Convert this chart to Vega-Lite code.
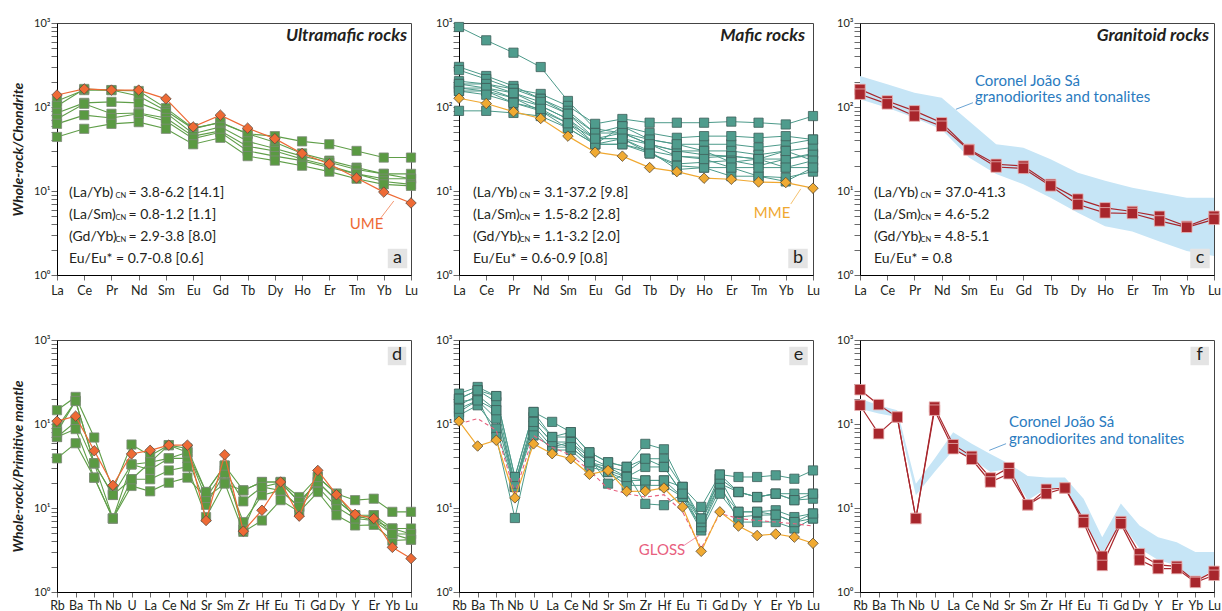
{
  "$schema": "https://vega.github.io/schema/vega-lite/v6.json",
  "background": "white",
  "padding": {"left": 11, "top": 16, "right": 0, "bottom": 0},
  "config": {
    "font": "Lato",
    "view": {"stroke": "#444", "strokeWidth": 1},
    "axis": {"grid": false, "labelFont": "Lato", "titleFont": "Lato", "domainColor": "#000", "domainWidth": 1, "tickColor": "#444", "tickWidth": 0.8, "labelColor": "#231f20", "labelOverlap": false}
  },
  "datasets": {
    "a_s": [
      {"s":"S1","e":"La","v":118},{"s":"S1","e":"Ce","v":159},{"s":"S1","e":"Pr","v":159},{"s":"S1","e":"Nd","v":155},{"s":"S1","e":"Sm","v":97},{"s":"S1","e":"Eu","v":56},{"s":"S1","e":"Gd","v":65},{"s":"S1","e":"Tb","v":48},{"s":"S1","e":"Dy","v":45},{"s":"S1","e":"Ho","v":39},{"s":"S1","e":"Er","v":36},{"s":"S1","e":"Tm","v":30},{"s":"S1","e":"Yb","v":25},{"s":"S1","e":"Lu","v":25},
      {"s":"S2","e":"La","v":103},{"s":"S2","e":"Ce","v":164},{"s":"S2","e":"Pr","v":159},{"s":"S2","e":"Nd","v":135},{"s":"S2","e":"Sm","v":90},{"s":"S2","e":"Eu","v":55},{"s":"S2","e":"Gd","v":66},{"s":"S2","e":"Tb","v":48},{"s":"S2","e":"Dy","v":38},{"s":"S2","e":"Ho","v":28},{"s":"S2","e":"Er","v":23},{"s":"S2","e":"Tm","v":19},{"s":"S2","e":"Yb","v":16},{"s":"S2","e":"Lu","v":16},
      {"s":"S3","e":"La","v":85},{"s":"S3","e":"Ce","v":112},{"s":"S3","e":"Pr","v":115},{"s":"S3","e":"Nd","v":112},{"s":"S3","e":"Sm","v":85},{"s":"S3","e":"Eu","v":48},{"s":"S3","e":"Gd","v":58},{"s":"S3","e":"Tb","v":39},{"s":"S3","e":"Dy","v":32},{"s":"S3","e":"Ho","v":26},{"s":"S3","e":"Er","v":22},{"s":"S3","e":"Tm","v":18},{"s":"S3","e":"Yb","v":16},{"s":"S3","e":"Lu","v":14},
      {"s":"S4","e":"La","v":72},{"s":"S4","e":"Ce","v":109},{"s":"S4","e":"Pr","v":83},{"s":"S4","e":"Nd","v":85},{"s":"S4","e":"Sm","v":74},{"s":"S4","e":"Eu","v":45},{"s":"S4","e":"Gd","v":52},{"s":"S4","e":"Tb","v":34},{"s":"S4","e":"Dy","v":30},{"s":"S4","e":"Ho","v":24},{"s":"S4","e":"Er","v":20},{"s":"S4","e":"Tm","v":16},{"s":"S4","e":"Yb","v":14},{"s":"S4","e":"Lu","v":14},
      {"s":"S5","e":"La","v":63},{"s":"S5","e":"Ce","v":80},{"s":"S5","e":"Pr","v":74},{"s":"S5","e":"Nd","v":83},{"s":"S5","e":"Sm","v":68},{"s":"S5","e":"Eu","v":42},{"s":"S5","e":"Gd","v":50},{"s":"S5","e":"Tb","v":30},{"s":"S5","e":"Dy","v":26},{"s":"S5","e":"Ho","v":23},{"s":"S5","e":"Er","v":19},{"s":"S5","e":"Tm","v":16},{"s":"S5","e":"Yb","v":13},{"s":"S5","e":"Lu","v":12},
      {"s":"S6","e":"La","v":44},{"s":"S6","e":"Ce","v":55},{"s":"S6","e":"Pr","v":63},{"s":"S6","e":"Nd","v":66},{"s":"S6","e":"Sm","v":55},{"s":"S6","e":"Eu","v":36},{"s":"S6","e":"Gd","v":43},{"s":"S6","e":"Tb","v":26},{"s":"S6","e":"Dy","v":23},{"s":"S6","e":"Ho","v":20},{"s":"S6","e":"Er","v":17},{"s":"S6","e":"Tm","v":14},{"s":"S6","e":"Yb","v":12},{"s":"S6","e":"Lu","v":11.5}
    ],
    "a_u": [
      {"s":"UME","e":"La","v":139},{"s":"UME","e":"Ce","v":164},{"s":"UME","e":"Pr","v":159},{"s":"UME","e":"Nd","v":159},{"s":"UME","e":"Sm","v":125},{"s":"UME","e":"Eu","v":58},{"s":"UME","e":"Gd","v":80},{"s":"UME","e":"Tb","v":56},{"s":"UME","e":"Dy","v":42},{"s":"UME","e":"Ho","v":28},{"s":"UME","e":"Er","v":21},{"s":"UME","e":"Tm","v":14.3},{"s":"UME","e":"Yb","v":9.7},{"s":"UME","e":"Lu","v":7.2}
    ],
    "b_s": [
      {"s":"T1","e":"La","v":896},{"s":"T1","e":"Ce","v":622},{"s":"T1","e":"Pr","v":443},{"s":"T1","e":"Nd","v":299},{"s":"T1","e":"Sm","v":118},{"s":"T1","e":"Eu","v":55},{"s":"T1","e":"Gd","v":49},{"s":"T1","e":"Tb","v":36},{"s":"T1","e":"Dy","v":30},{"s":"T1","e":"Ho","v":27},{"s":"T1","e":"Er","v":26},{"s":"T1","e":"Tm","v":24},{"s":"T1","e":"Yb","v":24},{"s":"T1","e":"Lu","v":28},
      {"s":"T2","e":"La","v":203},{"s":"T2","e":"Ce","v":188},{"s":"T2","e":"Pr","v":164},{"s":"T2","e":"Nd","v":143},{"s":"T2","e":"Sm","v":103},{"s":"T2","e":"Eu","v":63},{"s":"T2","e":"Gd","v":72},{"s":"T2","e":"Tb","v":65},{"s":"T2","e":"Dy","v":65},{"s":"T2","e":"Ho","v":65},{"s":"T2","e":"Er","v":67},{"s":"T2","e":"Tm","v":65},{"s":"T2","e":"Yb","v":62},{"s":"T2","e":"Lu","v":78},
      {"s":"T3","e":"La","v":300},{"s":"T3","e":"Ce","v":234},{"s":"T3","e":"Pr","v":178},{"s":"T3","e":"Nd","v":125},{"s":"T3","e":"Sm","v":90},{"s":"T3","e":"Eu","v":49},{"s":"T3","e":"Gd","v":59},{"s":"T3","e":"Tb","v":41},{"s":"T3","e":"Dy","v":36},{"s":"T3","e":"Ho","v":36},{"s":"T3","e":"Er","v":36},{"s":"T3","e":"Tm","v":33},{"s":"T3","e":"Yb","v":36},{"s":"T3","e":"Lu","v":41},
      {"s":"T4","e":"La","v":275},{"s":"T4","e":"Ce","v":215},{"s":"T4","e":"Pr","v":164},{"s":"T4","e":"Nd","v":125},{"s":"T4","e":"Sm","v":83},{"s":"T4","e":"Eu","v":42},{"s":"T4","e":"Gd","v":49},{"s":"T4","e":"Tb","v":36},{"s":"T4","e":"Dy","v":30},{"s":"T4","e":"Ho","v":30},{"s":"T4","e":"Er","v":30},{"s":"T4","e":"Tm","v":27},{"s":"T4","e":"Yb","v":30},{"s":"T4","e":"Lu","v":33},
      {"s":"T5","e":"La","v":188},{"s":"T5","e":"Ce","v":188},{"s":"T5","e":"Pr","v":147},{"s":"T5","e":"Nd","v":103},{"s":"T5","e":"Sm","v":72},{"s":"T5","e":"Eu","v":42},{"s":"T5","e":"Gd","v":42},{"s":"T5","e":"Tb","v":30},{"s":"T5","e":"Dy","v":26},{"s":"T5","e":"Ho","v":25},{"s":"T5","e":"Er","v":26},{"s":"T5","e":"Tm","v":24},{"s":"T5","e":"Yb","v":19},{"s":"T5","e":"Lu","v":23},
      {"s":"T6","e":"La","v":168},{"s":"T6","e":"Ce","v":168},{"s":"T6","e":"Pr","v":128},{"s":"T6","e":"Nd","v":103},{"s":"T6","e":"Sm","v":72},{"s":"T6","e":"Eu","v":36},{"s":"T6","e":"Gd","v":59},{"s":"T6","e":"Tb","v":49},{"s":"T6","e":"Dy","v":43},{"s":"T6","e":"Ho","v":45},{"s":"T6","e":"Er","v":45},{"s":"T6","e":"Tm","v":43},{"s":"T6","e":"Yb","v":45},{"s":"T6","e":"Lu","v":41},
      {"s":"T7","e":"La","v":155},{"s":"T7","e":"Ce","v":155},{"s":"T7","e":"Pr","v":128},{"s":"T7","e":"Nd","v":90},{"s":"T7","e":"Sm","v":64},{"s":"T7","e":"Eu","v":36},{"s":"T7","e":"Gd","v":42},{"s":"T7","e":"Tb","v":28},{"s":"T7","e":"Dy","v":21},{"s":"T7","e":"Ho","v":22},{"s":"T7","e":"Er","v":23},{"s":"T7","e":"Tm","v":20},{"s":"T7","e":"Yb","v":24},{"s":"T7","e":"Lu","v":27},
      {"s":"T8","e":"La","v":168},{"s":"T8","e":"Ce","v":155},{"s":"T8","e":"Pr","v":112},{"s":"T8","e":"Nd","v":90},{"s":"T8","e":"Sm","v":56},{"s":"T8","e":"Eu","v":36},{"s":"T8","e":"Gd","v":36},{"s":"T8","e":"Tb","v":30},{"s":"T8","e":"Dy","v":18},{"s":"T8","e":"Ho","v":19},{"s":"T8","e":"Er","v":19},{"s":"T8","e":"Tm","v":15},{"s":"T8","e":"Yb","v":13},{"s":"T8","e":"Lu","v":19},
      {"s":"T9","e":"La","v":90},{"s":"T9","e":"Ce","v":90},{"s":"T9","e":"Pr","v":85},{"s":"T9","e":"Nd","v":78},{"s":"T9","e":"Sm","v":56},{"s":"T9","e":"Eu","v":36},{"s":"T9","e":"Gd","v":36},{"s":"T9","e":"Tb","v":28},{"s":"T9","e":"Dy","v":20},{"s":"T9","e":"Ho","v":19},{"s":"T9","e":"Er","v":15},{"s":"T9","e":"Tm","v":15},{"s":"T9","e":"Yb","v":14.4},{"s":"T9","e":"Lu","v":17},
      {"s":"T10","e":"La","v":188},{"s":"T10","e":"Ce","v":168},{"s":"T10","e":"Pr","v":147},{"s":"T10","e":"Nd","v":115},{"s":"T10","e":"Sm","v":83},{"s":"T10","e":"Eu","v":49},{"s":"T10","e":"Gd","v":49},{"s":"T10","e":"Tb","v":41},{"s":"T10","e":"Dy","v":36},{"s":"T10","e":"Ho","v":30},{"s":"T10","e":"Er","v":22},{"s":"T10","e":"Tm","v":24},{"s":"T10","e":"Yb","v":30},{"s":"T10","e":"Lu","v":23},
      {"s":"T11","e":"La","v":155},{"s":"T11","e":"Ce","v":140},{"s":"T11","e":"Pr","v":112},{"s":"T11","e":"Nd","v":95},{"s":"T11","e":"Sm","v":64},{"s":"T11","e":"Eu","v":42},{"s":"T11","e":"Gd","v":42},{"s":"T11","e":"Tb","v":36},{"s":"T11","e":"Dy","v":26},{"s":"T11","e":"Ho","v":24},{"s":"T11","e":"Er","v":19},{"s":"T11","e":"Tm","v":19},{"s":"T11","e":"Yb","v":19},{"s":"T11","e":"Lu","v":19}
    ],
    "b_m": [
      {"s":"MME","e":"La","v":127},{"s":"MME","e":"Ce","v":110},{"s":"MME","e":"Pr","v":88},{"s":"MME","e":"Nd","v":73},{"s":"MME","e":"Sm","v":45},{"s":"MME","e":"Eu","v":29},{"s":"MME","e":"Gd","v":26},{"s":"MME","e":"Tb","v":19},{"s":"MME","e":"Dy","v":17},{"s":"MME","e":"Ho","v":14.2},{"s":"MME","e":"Er","v":13.8},{"s":"MME","e":"Tm","v":12.8},{"s":"MME","e":"Yb","v":12.6},{"s":"MME","e":"Lu","v":10.8}
    ],
    "c_s": [
      {"s":"R1","e":"La","v":162},{"s":"R1","e":"Ce","v":118},{"s":"R1","e":"Pr","v":90},{"s":"R1","e":"Nd","v":65},{"s":"R1","e":"Sm","v":31.3},{"s":"R1","e":"Eu","v":20.8},{"s":"R1","e":"Gd","v":19.8},{"s":"R1","e":"Tb","v":12},{"s":"R1","e":"Dy","v":8},{"s":"R1","e":"Ho","v":6.3},{"s":"R1","e":"Er","v":5.7},{"s":"R1","e":"Tm","v":5},{"s":"R1","e":"Yb","v":3.8},{"s":"R1","e":"Lu","v":5},
      {"s":"R2","e":"La","v":142},{"s":"R2","e":"Ce","v":109},{"s":"R2","e":"Pr","v":78},{"s":"R2","e":"Nd","v":59},{"s":"R2","e":"Sm","v":30.8},{"s":"R2","e":"Eu","v":19.3},{"s":"R2","e":"Gd","v":18.6},{"s":"R2","e":"Tb","v":11.5},{"s":"R2","e":"Dy","v":6.9},{"s":"R2","e":"Ho","v":5.5},{"s":"R2","e":"Er","v":5.4},{"s":"R2","e":"Tm","v":4.4},{"s":"R2","e":"Yb","v":3.7},{"s":"R2","e":"Lu","v":4.6}
    ],
    "c_band": [
      {"e":"La","hi":234,"lo":124},{"e":"Ce","hi":186,"lo":98},{"e":"Pr","hi":148,"lo":74.6},{"e":"Nd","hi":129,"lo":54},{"e":"Sm","hi":68,"lo":25},{"e":"Eu","hi":36,"lo":15.9},{"e":"Gd","hi":32.8,"lo":12},{"e":"Tb","hi":23.8,"lo":8.3},{"e":"Dy","hi":16.5,"lo":5.5},{"e":"Ho","hi":13.2,"lo":3.8},{"e":"Er","hi":10.9,"lo":3.3},{"e":"Tm","hi":9.5,"lo":2.5},{"e":"Yb","hi":8.3,"lo":1.93},{"e":"Lu","hi":8.3,"lo":1.68}
    ],
    "d_s": [
      {"s":"D1","e":"Rb","v":146},{"s":"D1","e":"Ba","v":210},{"s":"D1","e":"Th","v":69},{"s":"D1","e":"Nb","v":16.4},{"s":"D1","e":"U","v":57},{"s":"D1","e":"La","v":42},{"s":"D1","e":"Ce","v":56},{"s":"D1","e":"Nd","v":51},{"s":"D1","e":"Sr","v":15.5},{"s":"D1","e":"Sm","v":32},{"s":"D1","e":"Zr","v":16.2},{"s":"D1","e":"Hf","v":20.4},{"s":"D1","e":"Eu","v":20.4},{"s":"D1","e":"Ti","v":13.5},{"s":"D1","e":"Gd","v":23.4},{"s":"D1","e":"Dy","v":14.8},{"s":"D1","e":"Y","v":12.4},{"s":"D1","e":"Er","v":12.9},{"s":"D1","e":"Yb","v":9},{"s":"D1","e":"Lu","v":9},
      {"s":"D2","e":"Rb","v":90},{"s":"D2","e":"Ba","v":188},{"s":"D2","e":"Th","v":34},{"s":"D2","e":"Nb","v":14.3},{"s":"D2","e":"U","v":33},{"s":"D2","e":"La","v":35},{"s":"D2","e":"Ce","v":56},{"s":"D2","e":"Nd","v":46},{"s":"D2","e":"Sr","v":13.2},{"s":"D2","e":"Sm","v":28},{"s":"D2","e":"Zr","v":12},{"s":"D2","e":"Hf","v":17.8},{"s":"D2","e":"Eu","v":20},{"s":"D2","e":"Ti","v":11.8},{"s":"D2","e":"Gd","v":20.4},{"s":"D2","e":"Dy","v":12.4},{"s":"D2","e":"Y","v":8.2},{"s":"D2","e":"Er","v":8.2},{"s":"D2","e":"Yb","v":5.7},{"s":"D2","e":"Lu","v":5.7},
      {"s":"D3","e":"Rb","v":70},{"s":"D3","e":"Ba","v":106},{"s":"D3","e":"Th","v":34},{"s":"D3","e":"Nb","v":7.5},{"s":"D3","e":"U","v":33},{"s":"D3","e":"La","v":28.6},{"s":"D3","e":"Ce","v":39},{"s":"D3","e":"Nd","v":39},{"s":"D3","e":"Sr","v":10.9},{"s":"D3","e":"Sm","v":26},{"s":"D3","e":"Zr","v":6.8},{"s":"D3","e":"Hf","v":14.2},{"s":"D3","e":"Eu","v":16.2},{"s":"D3","e":"Ti","v":10.3},{"s":"D3","e":"Gd","v":17.8},{"s":"D3","e":"Dy","v":10.3},{"s":"D3","e":"Y","v":7.5},{"s":"D3","e":"Er","v":7.1},{"s":"D3","e":"Yb","v":4.9},{"s":"D3","e":"Lu","v":4.9},
      {"s":"D4","e":"Rb","v":70},{"s":"D4","e":"Ba","v":87},{"s":"D4","e":"Th","v":23},{"s":"D4","e":"Nb","v":7.5},{"s":"D4","e":"U","v":22},{"s":"D4","e":"La","v":22},{"s":"D4","e":"Ce","v":28},{"s":"D4","e":"Nd","v":31},{"s":"D4","e":"Sr","v":7.8},{"s":"D4","e":"Sm","v":20},{"s":"D4","e":"Zr","v":5.2},{"s":"D4","e":"Hf","v":7.1},{"s":"D4","e":"Eu","v":12.4},{"s":"D4","e":"Ti","v":9},{"s":"D4","e":"Gd","v":15.5},{"s":"D4","e":"Dy","v":8.2},{"s":"D4","e":"Y","v":6.2},{"s":"D4","e":"Er","v":6.3},{"s":"D4","e":"Yb","v":4.1},{"s":"D4","e":"Lu","v":4.2},
      {"s":"D5","e":"Rb","v":39},{"s":"D5","e":"Ba","v":59},{"s":"D5","e":"Th","v":23},{"s":"D5","e":"Nb","v":7.5},{"s":"D5","e":"U","v":18.3},{"s":"D5","e":"La","v":15.8},{"s":"D5","e":"Ce","v":20},{"s":"D5","e":"Nd","v":23},{"s":"D5","e":"Sr","v":13.2},{"s":"D5","e":"Sm","v":19.5},{"s":"D5","e":"Zr","v":16.2},{"s":"D5","e":"Hf","v":20.4},{"s":"D5","e":"Eu","v":20.4},{"s":"D5","e":"Ti","v":11.8},{"s":"D5","e":"Gd","v":20.4},{"s":"D5","e":"Dy","v":12.4},{"s":"D5","e":"Y","v":8.2},{"s":"D5","e":"Er","v":7.1},{"s":"D5","e":"Yb","v":5.7},{"s":"D5","e":"Lu","v":4.9},
      {"s":"D6","e":"Rb","v":80},{"s":"D6","e":"Ba","v":188},{"s":"D6","e":"Th","v":34},{"s":"D6","e":"Nb","v":14.3},{"s":"D6","e":"U","v":22},{"s":"D6","e":"La","v":35},{"s":"D6","e":"Ce","v":39},{"s":"D6","e":"Nd","v":46},{"s":"D6","e":"Sr","v":15.5},{"s":"D6","e":"Sm","v":32},{"s":"D6","e":"Zr","v":5.5},{"s":"D6","e":"Hf","v":17.8},{"s":"D6","e":"Eu","v":16.2},{"s":"D6","e":"Ti","v":10.3},{"s":"D6","e":"Gd","v":23.4},{"s":"D6","e":"Dy","v":14.8},{"s":"D6","e":"Y","v":7.5},{"s":"D6","e":"Er","v":8.2},{"s":"D6","e":"Yb","v":4.9},{"s":"D6","e":"Lu","v":4.2}
    ],
    "d_u": [
      {"s":"UME","e":"Rb","v":108},{"s":"UME","e":"Ba","v":124},{"s":"UME","e":"Th","v":48},{"s":"UME","e":"Nb","v":18.6},{"s":"UME","e":"U","v":44},{"s":"UME","e":"La","v":48.6},{"s":"UME","e":"Ce","v":56},{"s":"UME","e":"Nd","v":56},{"s":"UME","e":"Sr","v":7.1},{"s":"UME","e":"Sm","v":43},{"s":"UME","e":"Zr","v":5.3},{"s":"UME","e":"Hf","v":9.4},{"s":"UME","e":"Eu","v":20.4},{"s":"UME","e":"Ti","v":8},{"s":"UME","e":"Gd","v":28},{"s":"UME","e":"Dy","v":14.4},{"s":"UME","e":"Y","v":8.4},{"s":"UME","e":"Er","v":7.5},{"s":"UME","e":"Yb","v":3.4},{"s":"UME","e":"Lu","v":2.5}
    ],
    "e_s": [
      {"s":"E1","e":"Rb","v":230},{"s":"E1","e":"Ba","v":276},{"s":"E1","e":"Th","v":215},{"s":"E1","e":"Nb","v":23.4},{"s":"E1","e":"U","v":139},{"s":"E1","e":"La","v":106},{"s":"E1","e":"Ce","v":80},{"s":"E1","e":"Nd","v":46},{"s":"E1","e":"Sr","v":35},{"s":"E1","e":"Sm","v":31},{"s":"E1","e":"Zr","v":58},{"s":"E1","e":"Hf","v":50},{"s":"E1","e":"Eu","v":17.8},{"s":"E1","e":"Ti","v":10.3},{"s":"E1","e":"Gd","v":25},{"s":"E1","e":"Dy","v":23.4},{"s":"E1","e":"Y","v":23.4},{"s":"E1","e":"Er","v":24.5},{"s":"E1","e":"Yb","v":22.3},{"s":"E1","e":"Lu","v":28},
      {"s":"E2","e":"Rb","v":200},{"s":"E2","e":"Ba","v":252},{"s":"E2","e":"Th","v":183},{"s":"E2","e":"Nb","v":19.5},{"s":"E2","e":"U","v":121},{"s":"E2","e":"La","v":70},{"s":"E2","e":"Ce","v":70},{"s":"E2","e":"Nd","v":40},{"s":"E2","e":"Sr","v":31},{"s":"E2","e":"Sm","v":27},{"s":"E2","e":"Zr","v":38.6},{"s":"E2","e":"Hf","v":38.6},{"s":"E2","e":"Eu","v":17.8},{"s":"E2","e":"Ti","v":7.5},{"s":"E2","e":"Gd","v":22.3},{"s":"E2","e":"Dy","v":15.5},{"s":"E2","e":"Y","v":13.5},{"s":"E2","e":"Er","v":14.8},{"s":"E2","e":"Yb","v":14.8},{"s":"E2","e":"Lu","v":14.8},
      {"s":"E3","e":"Rb","v":167},{"s":"E3","e":"Ba","v":219},{"s":"E3","e":"Th","v":146},{"s":"E3","e":"Nb","v":17.8},{"s":"E3","e":"U","v":106},{"s":"E3","e":"La","v":61},{"s":"E3","e":"Ce","v":61},{"s":"E3","e":"Nd","v":35},{"s":"E3","e":"Sr","v":28},{"s":"E3","e":"Sm","v":23.4},{"s":"E3","e":"Zr","v":30.8},{"s":"E3","e":"Hf","v":30.8},{"s":"E3","e":"Eu","v":14.8},{"s":"E3","e":"Ti","v":6.8},{"s":"E3","e":"Gd","v":19.5},{"s":"E3","e":"Dy","v":15.5},{"s":"E3","e":"Y","v":13.5},{"s":"E3","e":"Er","v":14.8},{"s":"E3","e":"Yb","v":12.4},{"s":"E3","e":"Lu","v":12.9},
      {"s":"E4","e":"Rb","v":139},{"s":"E4","e":"Ba","v":191},{"s":"E4","e":"Th","v":116},{"s":"E4","e":"Nb","v":17.8},{"s":"E4","e":"U","v":96},{"s":"E4","e":"La","v":53},{"s":"E4","e":"Ce","v":53},{"s":"E4","e":"Nd","v":35},{"s":"E4","e":"Sr","v":26.8},{"s":"E4","e":"Sm","v":21.3},{"s":"E4","e":"Zr","v":21.3},{"s":"E4","e":"Hf","v":21.3},{"s":"E4","e":"Eu","v":13.5},{"s":"E4","e":"Ti","v":5.9},{"s":"E4","e":"Gd","v":17},{"s":"E4","e":"Dy","v":9},{"s":"E4","e":"Y","v":9},{"s":"E4","e":"Er","v":9.4},{"s":"E4","e":"Yb","v":7.8},{"s":"E4","e":"Lu","v":8.6},
      {"s":"E5","e":"Rb","v":127},{"s":"E5","e":"Ba","v":167},{"s":"E5","e":"Th","v":88},{"s":"E5","e":"Nb","v":17.8},{"s":"E5","e":"U","v":84},{"s":"E5","e":"La","v":49},{"s":"E5","e":"Ce","v":49},{"s":"E5","e":"Nd","v":31},{"s":"E5","e":"Sr","v":26.8},{"s":"E5","e":"Sm","v":18.6},{"s":"E5","e":"Zr","v":18.6},{"s":"E5","e":"Hf","v":18.6},{"s":"E5","e":"Eu","v":13.5},{"s":"E5","e":"Ti","v":5.4},{"s":"E5","e":"Gd","v":14.8},{"s":"E5","e":"Dy","v":7.8},{"s":"E5","e":"Y","v":8.2},{"s":"E5","e":"Er","v":8.3},{"s":"E5","e":"Yb","v":6.8},{"s":"E5","e":"Lu","v":7.5},
      {"s":"E6","e":"Rb","v":183},{"s":"E6","e":"Ba","v":200},{"s":"E6","e":"Th","v":70},{"s":"E6","e":"Nb","v":7.6},{"s":"E6","e":"U","v":73},{"s":"E6","e":"La","v":53},{"s":"E6","e":"Ce","v":61},{"s":"E6","e":"Nd","v":40},{"s":"E6","e":"Sr","v":19.5},{"s":"E6","e":"Sm","v":26.8},{"s":"E6","e":"Zr","v":11.2},{"s":"E6","e":"Hf","v":10.8},{"s":"E6","e":"Eu","v":14.8},{"s":"E6","e":"Ti","v":5.9},{"s":"E6","e":"Gd","v":19.5},{"s":"E6","e":"Dy","v":6.8},{"s":"E6","e":"Y","v":6.8},{"s":"E6","e":"Er","v":6.8},{"s":"E6","e":"Yb","v":5.7},{"s":"E6","e":"Lu","v":7.5},
      {"s":"E7","e":"Rb","v":152},{"s":"E7","e":"Ba","v":191},{"s":"E7","e":"Th","v":146},{"s":"E7","e":"Nb","v":19.5},{"s":"E7","e":"U","v":106},{"s":"E7","e":"La","v":61},{"s":"E7","e":"Ce","v":53},{"s":"E7","e":"Nd","v":35},{"s":"E7","e":"Sr","v":30.8},{"s":"E7","e":"Sm","v":23.4},{"s":"E7","e":"Zr","v":21.3},{"s":"E7","e":"Hf","v":21.3},{"s":"E7","e":"Eu","v":17.8},{"s":"E7","e":"Ti","v":6.8},{"s":"E7","e":"Gd","v":22.3},{"s":"E7","e":"Dy","v":9},{"s":"E7","e":"Y","v":9},{"s":"E7","e":"Er","v":8.3},{"s":"E7","e":"Yb","v":6.8},{"s":"E7","e":"Lu","v":8.6},
      {"s":"E8","e":"Rb","v":200},{"s":"E8","e":"Ba","v":252},{"s":"E8","e":"Th","v":215},{"s":"E8","e":"Nb","v":23.4},{"s":"E8","e":"U","v":139},{"s":"E8","e":"La","v":70},{"s":"E8","e":"Ce","v":80},{"s":"E8","e":"Nd","v":46},{"s":"E8","e":"Sr","v":35},{"s":"E8","e":"Sm","v":30.8},{"s":"E8","e":"Zr","v":38.6},{"s":"E8","e":"Hf","v":30.8},{"s":"E8","e":"Eu","v":14.8},{"s":"E8","e":"Ti","v":7.5},{"s":"E8","e":"Gd","v":25},{"s":"E8","e":"Dy","v":15.5},{"s":"E8","e":"Y","v":13.5},{"s":"E8","e":"Er","v":14.8},{"s":"E8","e":"Yb","v":12.4},{"s":"E8","e":"Lu","v":14.8}
    ],
    "e_m": [
      {"s":"MME","e":"Rb","v":108},{"s":"MME","e":"Ba","v":54.7},{"s":"MME","e":"Th","v":64},{"s":"MME","e":"Nb","v":13.2},{"s":"MME","e":"U","v":58},{"s":"MME","e":"La","v":44.3},{"s":"MME","e":"Ce","v":38.6},{"s":"MME","e":"Nd","v":25.2},{"s":"MME","e":"Sr","v":28},{"s":"MME","e":"Sm","v":15.8},{"s":"MME","e":"Zr","v":15.9},{"s":"MME","e":"Hf","v":17.3},{"s":"MME","e":"Eu","v":10.3},{"s":"MME","e":"Ti","v":3.05},{"s":"MME","e":"Gd","v":9},{"s":"MME","e":"Dy","v":6.1},{"s":"MME","e":"Y","v":4.7},{"s":"MME","e":"Er","v":4.9},{"s":"MME","e":"Yb","v":4.5},{"s":"MME","e":"Lu","v":3.8}
    ],
    "e_g": [
      {"s":"GLOSS","e":"Rb","v":100},{"s":"GLOSS","e":"Ba","v":116},{"s":"GLOSS","e":"Th","v":84},{"s":"GLOSS","e":"Nb","v":15},{"s":"GLOSS","e":"U","v":73},{"s":"GLOSS","e":"La","v":53},{"s":"GLOSS","e":"Ce","v":42.6},{"s":"GLOSS","e":"Nd","v":28},{"s":"GLOSS","e":"Sr","v":17},{"s":"GLOSS","e":"Sm","v":14.8},{"s":"GLOSS","e":"Zr","v":13.5},{"s":"GLOSS","e":"Hf","v":14.4},{"s":"GLOSS","e":"Eu","v":9},{"s":"GLOSS","e":"Ti","v":3.3},{"s":"GLOSS","e":"Gd","v":8.6},{"s":"GLOSS","e":"Dy","v":7.5},{"s":"GLOSS","e":"Y","v":7.1},{"s":"GLOSS","e":"Er","v":6.8},{"s":"GLOSS","e":"Yb","v":6.5},{"s":"GLOSS","e":"Lu","v":6.1}
    ],
    "f_s": [
      {"s":"F1","e":"Rb","v":256},{"s":"F1","e":"Ba","v":170},{"s":"F1","e":"Th","v":121},{"s":"F1","e":"Nb","v":7.5},{"s":"F1","e":"U","v":159},{"s":"F1","e":"La","v":56.7},{"s":"F1","e":"Ce","v":41.2},{"s":"F1","e":"Nd","v":22.8},{"s":"F1","e":"Sr","v":30.2},{"s":"F1","e":"Sm","v":10.9},{"s":"F1","e":"Zr","v":16.7},{"s":"F1","e":"Hf","v":17.3},{"s":"F1","e":"Eu","v":7.3},{"s":"F1","e":"Ti","v":2.66},{"s":"F1","e":"Gd","v":6.9},{"s":"F1","e":"Dy","v":2.86},{"s":"F1","e":"Y","v":2.1},{"s":"F1","e":"Er","v":2.02},{"s":"F1","e":"Yb","v":1.34},{"s":"F1","e":"Lu","v":1.76},
      {"s":"F2","e":"Rb","v":167},{"s":"F2","e":"Ba","v":76.7},{"s":"F2","e":"Th","v":121},{"s":"F2","e":"Nb","v":7.5},{"s":"F2","e":"U","v":146},{"s":"F2","e":"La","v":50.8},{"s":"F2","e":"Ce","v":38},{"s":"F2","e":"Nd","v":20.4},{"s":"F2","e":"Sr","v":25.6},{"s":"F2","e":"Sm","v":10.9},{"s":"F2","e":"Zr","v":14.8},{"s":"F2","e":"Hf","v":17.3},{"s":"F2","e":"Eu","v":6.7},{"s":"F2","e":"Ti","v":2.07},{"s":"F2","e":"Gd","v":6.5},{"s":"F2","e":"Dy","v":2.4},{"s":"F2","e":"Y","v":1.9},{"s":"F2","e":"Er","v":1.9},{"s":"F2","e":"Yb","v":1.3},{"s":"F2","e":"Lu","v":1.58}
    ],
    "f_band": [
      {"e":"Rb","hi":200,"lo":152},{"e":"Ba","hi":167,"lo":133},{"e":"Th","hi":146,"lo":121},{"e":"Nb","hi":19.5,"lo":14.2},{"e":"U","hi":38.6,"lo":26.8},{"e":"La","hi":80,"lo":48.6},{"e":"Ce","hi":58,"lo":38.6},{"e":"Nd","hi":44,"lo":26.8},{"e":"Sr","hi":33.7,"lo":29.4},{"e":"Sm","hi":24,"lo":12.4},{"e":"Zr","hi":23,"lo":17},{"e":"Hf","hi":23,"lo":17.8},{"e":"Eu","hi":12.9,"lo":7.1},{"e":"Ti","hi":4.5,"lo":2.86},{"e":"Gd","hi":11.3,"lo":6.8},{"e":"Dy","hi":6.2,"lo":3.3},{"e":"Y","hi":4.5,"lo":2.4},{"e":"Er","hi":3.9,"lo":2.07},{"e":"Yb","hi":3,"lo":1.3},{"e":"Lu","hi":3,"lo":1.9}
    ]
  },
  "spacing": 36,
  "vconcat": [
    {
      "spacing": 16,
      "hconcat": [
        {
          "width": 354, "height": 252,
          "layer": [
            {"data": {"name": "a_s"}, "mark": {"type": "line", "color": "#5f9e48", "strokeWidth": 1.1},
             "encoding": {
               "x": {"field": "e", "type": "nominal", "scale": {"type": "point", "domain": ["La","Ce","Pr","Nd","Sm","Eu","Gd","Tb","Dy","Ho","Er","Tm","Yb","Lu"], "padding": 0},
                     "axis": {"title": null, "labelAngle": 0, "tickSize": 5, "labelPadding": 4, "labelFontSize": 12.5}},
               "y": {"field": "v", "type": "quantitative", "scale": {"type": "log", "domain": [1, 1000], "nice": false},
                     "axis": {"title": "Whole-rock/Chondrite", "titleFontSize": 14, "titleFontWeight": "bold", "titleFontStyle": "italic", "titleColor": "#231f20", "titlePadding": 8,
                              "values": [1,2,3,4,5,6,7,8,9,10,20,30,40,50,60,70,80,90,100,200,300,400,500,600,700,800,900,1000],
                              "labelExpr": "datum.value == 1000 ? '10³' : datum.value == 100 ? '10²' : datum.value == 10 ? '10¹' : datum.value == 1 ? '10⁰' : ''",
                              "tickSize": 6,
                              "encode": {"ticks": {"update": {"x2": {"signal": "(datum.value == 1 || datum.value == 10 || datum.value == 100 || datum.value == 1000) ? -6 : -3"}}}},
                              "labelFontSize": 11, "labelPadding": 1}},
               "detail": {"field": "s"}, "order": {"value": null}}},
            {"data": {"name": "a_s"}, "mark": {"type": "point", "shape": "square", "filled": true, "size": 85, "color": "#5a9a42", "stroke": "#7d8a78", "strokeWidth": 0.8, "opacity": 1},
             "encoding": {
               "x": {"field": "e", "type": "nominal", "scale": {"type": "point", "domain": ["La","Ce","Pr","Nd","Sm","Eu","Gd","Tb","Dy","Ho","Er","Tm","Yb","Lu"], "padding": 0}},
               "y": {"field": "v", "type": "quantitative", "scale": {"type": "log", "domain": [1, 1000], "nice": false}}}},
            {"data": {"name": "a_u"}, "mark": {"type": "line", "color": "#ee6a35", "strokeWidth": 1.2},
             "encoding": {
               "x": {"field": "e", "type": "nominal", "scale": {"type": "point", "domain": ["La","Ce","Pr","Nd","Sm","Eu","Gd","Tb","Dy","Ho","Er","Tm","Yb","Lu"], "padding": 0}},
               "y": {"field": "v", "type": "quantitative", "scale": {"type": "log", "domain": [1, 1000], "nice": false}},
               "order": {"value": null}}},
            {"data": {"name": "a_u"}, "mark": {"type": "point", "shape": "diamond", "filled": true, "size": 110, "color": "#ee6a35", "stroke": "#5a4a40", "strokeWidth": 0.8, "opacity": 1},
             "encoding": {
               "x": {"field": "e", "type": "nominal", "scale": {"type": "point", "domain": ["La","Ce","Pr","Nd","Sm","Eu","Gd","Tb","Dy","Ho","Er","Tm","Yb","Lu"], "padding": 0}},
               "y": {"field": "v", "type": "quantitative", "scale": {"type": "log", "domain": [1, 1000], "nice": false}}}},
            {"data": {"values": [{}]}, "mark": {"type": "text", "text": "Ultramafic rocks", "fontSize": 17.5, "fontWeight": "bold", "fontStyle": "italic", "align": "right", "baseline": "middle", "dx": -4, "dy": 13, "color": "#231f20"},
             "encoding": {"x": {"datum": "Lu", "type": "nominal", "scale": {"type": "point", "domain": ["La","Ce","Pr","Nd","Sm","Eu","Gd","Tb","Dy","Ho","Er","Tm","Yb","Lu"], "padding": 0}},
                          "y": {"datum": 1000, "type": "quantitative", "scale": {"type": "log", "domain": [1, 1000], "nice": false}}}},
            {"data": {"values": [{}]}, "mark": {"type": "text", "text": ["(La/Yb)", "(La/Sm)", "(Gd/Yb)", "Eu/Eu* = 0.7-0.8 [0.6]"], "fontSize": 14, "lineHeight": 22, "align": "left", "baseline": "top", "dx": 12, "color": "#231f20"},
             "encoding": {"x": {"datum": "La", "type": "nominal", "scale": {"type": "point", "domain": ["La","Ce","Pr","Nd","Sm","Eu","Gd","Tb","Dy","Ho","Er","Tm","Yb","Lu"], "padding": 0}},
                          "y": {"datum": 11.47, "type": "quantitative", "scale": {"type": "log", "domain": [1, 1000], "nice": false}}}},
            {"data": {"values": [{}]}, "mark": {"type": "text", "text": ["CN", "CN", "CN"], "fontSize": 7.5, "lineHeight": 22, "align": "left", "baseline": "top", "dx": 58.5, "color": "#231f20"},
             "encoding": {"x": {"datum": "La", "type": "nominal", "scale": {"type": "point", "domain": ["La","Ce","Pr","Nd","Sm","Eu","Gd","Tb","Dy","Ho","Er","Tm","Yb","Lu"], "padding": 0}},
                          "y": {"datum": 9.76, "type": "quantitative", "scale": {"type": "log", "domain": [1, 1000], "nice": false}}}},
            {"data": {"values": [{}]}, "mark": {"type": "text", "text": ["= 3.8-6.2 [14.1]", "= 0.8-1.2 [1.1]", "= 2.9-3.8 [8.0]"], "fontSize": 14, "lineHeight": 22, "align": "left", "baseline": "top", "dx": 71.5, "color": "#231f20"},
             "encoding": {"x": {"datum": "La", "type": "nominal", "scale": {"type": "point", "domain": ["La","Ce","Pr","Nd","Sm","Eu","Gd","Tb","Dy","Ho","Er","Tm","Yb","Lu"], "padding": 0}},
                          "y": {"datum": 11.47, "type": "quantitative", "scale": {"type": "log", "domain": [1, 1000], "nice": false}}}},
            {"data": {"values": [{}]}, "mark": {"type": "text", "text": "UME", "fontSize": 15, "align": "center", "baseline": "middle", "dx": 10, "color": "#ee6a35"},
             "encoding": {"x": {"datum": "Tm", "type": "nominal", "scale": {"type": "point", "domain": ["La","Ce","Pr","Nd","Sm","Eu","Gd","Tb","Dy","Ho","Er","Tm","Yb","Lu"], "padding": 0}},
                          "y": {"datum": 4.05, "type": "quantitative", "scale": {"type": "log", "domain": [1, 1000], "nice": false}}}},
            {"data": {"values": [{}]}, "mark": {"type": "rule", "color": "#ee6a35", "strokeWidth": 0.7, "xOffset": -3, "x2Offset": 10},
             "encoding": {"x": {"datum": "Yb", "type": "nominal", "scale": {"type": "point", "domain": ["La","Ce","Pr","Nd","Sm","Eu","Gd","Tb","Dy","Ho","Er","Tm","Yb","Lu"], "padding": 0}},
                          "x2": {"datum": "Yb"},
                          "y": {"datum": 4.77, "type": "quantitative", "scale": {"type": "log", "domain": [1, 1000], "nice": false}},
                          "y2": {"datum": 7.6}}},
            {"data": {"values": [{}]}, "mark": {"type": "point", "shape": "square", "filled": true, "size": 380, "color": "#e4e4e4", "opacity": 1, "xOffset": -13.5, "yOffset": -16.5},
             "encoding": {"x": {"datum": "Lu", "type": "nominal", "scale": {"type": "point", "domain": ["La","Ce","Pr","Nd","Sm","Eu","Gd","Tb","Dy","Ho","Er","Tm","Yb","Lu"], "padding": 0}},
                          "y": {"datum": 1, "type": "quantitative", "scale": {"type": "log", "domain": [1, 1000], "nice": false}}}},
            {"data": {"values": [{}]}, "mark": {"type": "text", "text": "a", "fontSize": 18, "align": "center", "baseline": "middle", "dx": -13.5, "dy": -17, "color": "#231f20"},
             "encoding": {"x": {"datum": "Lu", "type": "nominal", "scale": {"type": "point", "domain": ["La","Ce","Pr","Nd","Sm","Eu","Gd","Tb","Dy","Ho","Er","Tm","Yb","Lu"], "padding": 0}},
                          "y": {"datum": 1, "type": "quantitative", "scale": {"type": "log", "domain": [1, 1000], "nice": false}}}}
          ]
        },
        {
          "spacing": 15,
          "hconcat": [
            {
              "width": 354, "height": 252,
              "layer": [
                {"data": {"name": "b_s"}, "mark": {"type": "line", "color": "#4c9a8a", "strokeWidth": 1},
                 "encoding": {
                   "x": {"field": "e", "type": "nominal", "scale": {"type": "point", "domain": ["La","Ce","Pr","Nd","Sm","Eu","Gd","Tb","Dy","Ho","Er","Tm","Yb","Lu"], "padding": 0},
                         "axis": {"title": null, "labelAngle": 0, "tickSize": 5, "labelPadding": 4, "labelFontSize": 12.5}},
                   "y": {"field": "v", "type": "quantitative", "scale": {"type": "log", "domain": [1, 1000], "nice": false},
                         "axis": {"title": null,
                                  "values": [1,2,3,4,5,6,7,8,9,10,20,30,40,50,60,70,80,90,100,200,300,400,500,600,700,800,900,1000],
                                  "labelExpr": "datum.value == 1000 ? '10³' : datum.value == 100 ? '10²' : datum.value == 10 ? '10¹' : datum.value == 1 ? '10⁰' : ''",
                                  "tickSize": 6,
                                  "encode": {"ticks": {"update": {"x2": {"signal": "(datum.value == 1 || datum.value == 10 || datum.value == 100 || datum.value == 1000) ? -6 : -3"}}}},
                                  "labelFontSize": 11, "labelPadding": 1}},
                   "detail": {"field": "s"}, "order": {"value": null}}},
                {"data": {"name": "b_s"}, "mark": {"type": "point", "shape": "square", "filled": true, "size": 85, "color": "#4f9c8d", "stroke": "#3f5f5a", "strokeWidth": 0.8, "opacity": 1},
                 "encoding": {
                   "x": {"field": "e", "type": "nominal", "scale": {"type": "point", "domain": ["La","Ce","Pr","Nd","Sm","Eu","Gd","Tb","Dy","Ho","Er","Tm","Yb","Lu"], "padding": 0}},
                   "y": {"field": "v", "type": "quantitative", "scale": {"type": "log", "domain": [1, 1000], "nice": false}}}},
                {"data": {"name": "b_m"}, "mark": {"type": "line", "color": "#f0a830", "strokeWidth": 1.2},
                 "encoding": {
                   "x": {"field": "e", "type": "nominal", "scale": {"type": "point", "domain": ["La","Ce","Pr","Nd","Sm","Eu","Gd","Tb","Dy","Ho","Er","Tm","Yb","Lu"], "padding": 0}},
                   "y": {"field": "v", "type": "quantitative", "scale": {"type": "log", "domain": [1, 1000], "nice": false}},
                   "order": {"value": null}}},
                {"data": {"name": "b_m"}, "mark": {"type": "point", "shape": "diamond", "filled": true, "size": 110, "color": "#f0aa32", "stroke": "#5a4a30", "strokeWidth": 0.8, "opacity": 1},
                 "encoding": {
                   "x": {"field": "e", "type": "nominal", "scale": {"type": "point", "domain": ["La","Ce","Pr","Nd","Sm","Eu","Gd","Tb","Dy","Ho","Er","Tm","Yb","Lu"], "padding": 0}},
                   "y": {"field": "v", "type": "quantitative", "scale": {"type": "log", "domain": [1, 1000], "nice": false}}}},
                {"data": {"values": [{}]}, "mark": {"type": "text", "text": "Mafic rocks", "fontSize": 17.5, "fontWeight": "bold", "fontStyle": "italic", "align": "right", "baseline": "middle", "dx": -8, "dy": 13, "color": "#231f20"},
                 "encoding": {"x": {"datum": "Lu", "type": "nominal", "scale": {"type": "point", "domain": ["La","Ce","Pr","Nd","Sm","Eu","Gd","Tb","Dy","Ho","Er","Tm","Yb","Lu"], "padding": 0}},
                              "y": {"datum": 1000, "type": "quantitative", "scale": {"type": "log", "domain": [1, 1000], "nice": false}}}},
                {"data": {"values": [{}]}, "mark": {"type": "text", "text": ["(La/Yb)", "(La/Sm)", "(Gd/Yb)", "Eu/Eu* = 0.6-0.9 [0.8]"], "fontSize": 14, "lineHeight": 22, "align": "left", "baseline": "top", "dx": 14, "color": "#231f20"},
                 "encoding": {"x": {"datum": "La", "type": "nominal", "scale": {"type": "point", "domain": ["La","Ce","Pr","Nd","Sm","Eu","Gd","Tb","Dy","Ho","Er","Tm","Yb","Lu"], "padding": 0}},
                              "y": {"datum": 11.47, "type": "quantitative", "scale": {"type": "log", "domain": [1, 1000], "nice": false}}}},
                {"data": {"values": [{}]}, "mark": {"type": "text", "text": ["CN", "CN", "CN"], "fontSize": 7.5, "lineHeight": 22, "align": "left", "baseline": "top", "dx": 60.5, "color": "#231f20"},
                 "encoding": {"x": {"datum": "La", "type": "nominal", "scale": {"type": "point", "domain": ["La","Ce","Pr","Nd","Sm","Eu","Gd","Tb","Dy","Ho","Er","Tm","Yb","Lu"], "padding": 0}},
                              "y": {"datum": 9.76, "type": "quantitative", "scale": {"type": "log", "domain": [1, 1000], "nice": false}}}},
                {"data": {"values": [{}]}, "mark": {"type": "text", "text": ["= 3.1-37.2 [9.8]", "= 1.5-8.2 [2.8]", "= 1.1-3.2 [2.0]"], "fontSize": 14, "lineHeight": 22, "align": "left", "baseline": "top", "dx": 73.5, "color": "#231f20"},
                 "encoding": {"x": {"datum": "La", "type": "nominal", "scale": {"type": "point", "domain": ["La","Ce","Pr","Nd","Sm","Eu","Gd","Tb","Dy","Ho","Er","Tm","Yb","Lu"], "padding": 0}},
                              "y": {"datum": 11.47, "type": "quantitative", "scale": {"type": "log", "domain": [1, 1000], "nice": false}}}},
                {"data": {"values": [{}]}, "mark": {"type": "text", "text": "MME", "fontSize": 15, "align": "center", "baseline": "middle", "dx": 13.5, "color": "#f0a830"},
                 "encoding": {"x": {"datum": "Tm", "type": "nominal", "scale": {"type": "point", "domain": ["La","Ce","Pr","Nd","Sm","Eu","Gd","Tb","Dy","Ho","Er","Tm","Yb","Lu"], "padding": 0}},
                              "y": {"datum": 5.47, "type": "quantitative", "scale": {"type": "log", "domain": [1, 1000], "nice": false}}}},
                {"data": {"values": [{}]}, "mark": {"type": "rule", "color": "#f0a830", "strokeWidth": 0.7, "xOffset": 5, "x2Offset": 15},
                 "encoding": {"x": {"datum": "Yb", "type": "nominal", "scale": {"type": "point", "domain": ["La","Ce","Pr","Nd","Sm","Eu","Gd","Tb","Dy","Ho","Er","Tm","Yb","Lu"], "padding": 0}},
                              "x2": {"datum": "Yb"},
                              "y": {"datum": 7.0, "type": "quantitative", "scale": {"type": "log", "domain": [1, 1000], "nice": false}},
                              "y2": {"datum": 10.6}}},
                {"data": {"values": [{}]}, "mark": {"type": "point", "shape": "square", "filled": true, "size": 380, "color": "#e4e4e4", "opacity": 1, "xOffset": -15, "yOffset": -16.5},
                 "encoding": {"x": {"datum": "Lu", "type": "nominal", "scale": {"type": "point", "domain": ["La","Ce","Pr","Nd","Sm","Eu","Gd","Tb","Dy","Ho","Er","Tm","Yb","Lu"], "padding": 0}},
                              "y": {"datum": 1, "type": "quantitative", "scale": {"type": "log", "domain": [1, 1000], "nice": false}}}},
                {"data": {"values": [{}]}, "mark": {"type": "text", "text": "b", "fontSize": 18, "align": "center", "baseline": "middle", "dx": -15, "dy": -17, "color": "#231f20"},
                 "encoding": {"x": {"datum": "Lu", "type": "nominal", "scale": {"type": "point", "domain": ["La","Ce","Pr","Nd","Sm","Eu","Gd","Tb","Dy","Ho","Er","Tm","Yb","Lu"], "padding": 0}},
                              "y": {"datum": 1, "type": "quantitative", "scale": {"type": "log", "domain": [1, 1000], "nice": false}}}}
              ]
            },
            {
              "width": 354, "height": 252,
              "layer": [
                {"data": {"name": "c_band"}, "mark": {"type": "area", "color": "#c6e5f6", "opacity": 1},
                 "encoding": {
                   "x": {"field": "e", "type": "nominal", "scale": {"type": "point", "domain": ["La","Ce","Pr","Nd","Sm","Eu","Gd","Tb","Dy","Ho","Er","Tm","Yb","Lu"], "padding": 0},
                         "axis": {"title": null, "labelAngle": 0, "tickSize": 5, "labelPadding": 4, "labelFontSize": 12.5}},
                   "y": {"field": "hi", "type": "quantitative", "scale": {"type": "log", "domain": [1, 1000], "nice": false},
                         "axis": {"title": null,
                                  "values": [1,2,3,4,5,6,7,8,9,10,20,30,40,50,60,70,80,90,100,200,300,400,500,600,700,800,900,1000],
                                  "labelExpr": "datum.value == 1000 ? '10³' : datum.value == 100 ? '10²' : datum.value == 10 ? '10¹' : datum.value == 1 ? '10⁰' : ''",
                                  "tickSize": 6,
                                  "encode": {"ticks": {"update": {"x2": {"signal": "(datum.value == 1 || datum.value == 10 || datum.value == 100 || datum.value == 1000) ? -6 : -3"}}}},
                                  "labelFontSize": 11, "labelPadding": 1}},
                   "y2": {"field": "lo"},
                   "order": {"value": null}}},
                {"data": {"name": "c_s"}, "mark": {"type": "line", "color": "#a8262c", "strokeWidth": 1.2},
                 "encoding": {
                   "x": {"field": "e", "type": "nominal", "scale": {"type": "point", "domain": ["La","Ce","Pr","Nd","Sm","Eu","Gd","Tb","Dy","Ho","Er","Tm","Yb","Lu"], "padding": 0}},
                   "y": {"field": "v", "type": "quantitative", "scale": {"type": "log", "domain": [1, 1000], "nice": false}},
                   "detail": {"field": "s"}, "order": {"value": null}}},
                {"data": {"name": "c_s"}, "mark": {"type": "point", "shape": "square", "filled": true, "size": 110, "color": "#a8262c", "stroke": "#e8b4b4", "strokeWidth": 0.8, "opacity": 1},
                 "encoding": {
                   "x": {"field": "e", "type": "nominal", "scale": {"type": "point", "domain": ["La","Ce","Pr","Nd","Sm","Eu","Gd","Tb","Dy","Ho","Er","Tm","Yb","Lu"], "padding": 0}},
                   "y": {"field": "v", "type": "quantitative", "scale": {"type": "log", "domain": [1, 1000], "nice": false}}}},
                {"data": {"values": [{}]}, "mark": {"type": "text", "text": "Granitoid rocks", "fontSize": 17.5, "fontWeight": "bold", "fontStyle": "italic", "align": "right", "baseline": "middle", "dx": -5, "dy": 13, "color": "#231f20"},
                 "encoding": {"x": {"datum": "Lu", "type": "nominal", "scale": {"type": "point", "domain": ["La","Ce","Pr","Nd","Sm","Eu","Gd","Tb","Dy","Ho","Er","Tm","Yb","Lu"], "padding": 0}},
                              "y": {"datum": 1000, "type": "quantitative", "scale": {"type": "log", "domain": [1, 1000], "nice": false}}}},
                {"data": {"values": [{}]}, "mark": {"type": "text", "text": "Coronel João Sá", "fontSize": 15, "align": "left", "baseline": "middle", "dx": 6, "color": "#2a7bc0"},
                 "encoding": {"x": {"datum": "Sm", "type": "nominal", "scale": {"type": "point", "domain": ["La","Ce","Pr","Nd","Sm","Eu","Gd","Tb","Dy","Ho","Er","Tm","Yb","Lu"], "padding": 0}},
                              "y": {"datum": 204, "type": "quantitative", "scale": {"type": "log", "domain": [1, 1000], "nice": false}}}},
                {"data": {"values": [{}]}, "mark": {"type": "text", "text": "granodiorites and tonalites", "fontSize": 15, "align": "left", "baseline": "middle", "dx": 6, "color": "#2a7bc0"},
                 "encoding": {"x": {"datum": "Sm", "type": "nominal", "scale": {"type": "point", "domain": ["La","Ce","Pr","Nd","Sm","Eu","Gd","Tb","Dy","Ho","Er","Tm","Yb","Lu"], "padding": 0}},
                              "y": {"datum": 131.5, "type": "quantitative", "scale": {"type": "log", "domain": [1, 1000], "nice": false}}}},
                {"data": {"values": [{}]}, "mark": {"type": "rule", "color": "#2a7bc0", "strokeWidth": 0.7, "xOffset": -13, "x2Offset": 4},
                 "encoding": {"x": {"datum": "Sm", "type": "nominal", "scale": {"type": "point", "domain": ["La","Ce","Pr","Nd","Sm","Eu","Gd","Tb","Dy","Ho","Er","Tm","Yb","Lu"], "padding": 0}},
                              "x2": {"datum": "Sm"},
                              "y": {"datum": 93.9, "type": "quantitative", "scale": {"type": "log", "domain": [1, 1000], "nice": false}},
                              "y2": {"datum": 112.5}}},
                {"data": {"values": [{}]}, "mark": {"type": "text", "text": ["(La/Yb)", "(La/Sm)", "(Gd/Yb)", "Eu/Eu* = 0.8"], "fontSize": 14, "lineHeight": 22, "align": "left", "baseline": "top", "dx": 14, "color": "#231f20"},
                 "encoding": {"x": {"datum": "La", "type": "nominal", "scale": {"type": "point", "domain": ["La","Ce","Pr","Nd","Sm","Eu","Gd","Tb","Dy","Ho","Er","Tm","Yb","Lu"], "padding": 0}},
                              "y": {"datum": 11.47, "type": "quantitative", "scale": {"type": "log", "domain": [1, 1000], "nice": false}}}},
                {"data": {"values": [{}]}, "mark": {"type": "text", "text": ["CN", "CN", "CN"], "fontSize": 7.5, "lineHeight": 22, "align": "left", "baseline": "top", "dx": 60.5, "color": "#231f20"},
                 "encoding": {"x": {"datum": "La", "type": "nominal", "scale": {"type": "point", "domain": ["La","Ce","Pr","Nd","Sm","Eu","Gd","Tb","Dy","Ho","Er","Tm","Yb","Lu"], "padding": 0}},
                              "y": {"datum": 9.76, "type": "quantitative", "scale": {"type": "log", "domain": [1, 1000], "nice": false}}}},
                {"data": {"values": [{}]}, "mark": {"type": "text", "text": ["= 37.0-41.3", "= 4.6-5.2", "= 4.8-5.1"], "fontSize": 14, "lineHeight": 22, "align": "left", "baseline": "top", "dx": 73.5, "color": "#231f20"},
                 "encoding": {"x": {"datum": "La", "type": "nominal", "scale": {"type": "point", "domain": ["La","Ce","Pr","Nd","Sm","Eu","Gd","Tb","Dy","Ho","Er","Tm","Yb","Lu"], "padding": 0}},
                              "y": {"datum": 11.47, "type": "quantitative", "scale": {"type": "log", "domain": [1, 1000], "nice": false}}}},
                {"data": {"values": [{}]}, "mark": {"type": "point", "shape": "square", "filled": true, "size": 380, "color": "#e4e4e4", "opacity": 1, "xOffset": -14, "yOffset": -16.5},
                 "encoding": {"x": {"datum": "Lu", "type": "nominal", "scale": {"type": "point", "domain": ["La","Ce","Pr","Nd","Sm","Eu","Gd","Tb","Dy","Ho","Er","Tm","Yb","Lu"], "padding": 0}},
                              "y": {"datum": 1, "type": "quantitative", "scale": {"type": "log", "domain": [1, 1000], "nice": false}}}},
                {"data": {"values": [{}]}, "mark": {"type": "text", "text": "c", "fontSize": 18, "align": "center", "baseline": "middle", "dx": -14, "dy": -17, "color": "#231f20"},
                 "encoding": {"x": {"datum": "Lu", "type": "nominal", "scale": {"type": "point", "domain": ["La","Ce","Pr","Nd","Sm","Eu","Gd","Tb","Dy","Ho","Er","Tm","Yb","Lu"], "padding": 0}},
                              "y": {"datum": 1, "type": "quantitative", "scale": {"type": "log", "domain": [1, 1000], "nice": false}}}}
              ]
            }
          ]
        }
      ]
    },
    {
      "spacing": 16,
      "hconcat": [
        {
          "width": 354, "height": 252,
          "layer": [
            {"data": {"name": "d_s"}, "mark": {"type": "line", "color": "#5f9e48", "strokeWidth": 1.1},
             "encoding": {
               "x": {"field": "e", "type": "nominal", "scale": {"type": "point", "domain": ["Rb","Ba","Th","Nb","U","La","Ce","Nd","Sr","Sm","Zr","Hf","Eu","Ti","Gd","Dy","Y","Er","Yb","Lu"], "padding": 0},
                     "axis": {"title": null, "labelAngle": 0, "tickSize": 5, "labelFontSize": 12.5, "labelPadding": 2,
                              "encode": {"labels": {"update": {"dy": {"signal": "indexof(['Ba','Nb','La','Nd','Sm','Hf','Ti','Dy','Er','Lu'], datum.value) >= 0 ? 5 : 0"}}}}}},
               "y": {"field": "v", "type": "quantitative", "scale": {"type": "log", "domain": [1, 1000], "nice": false},
                     "axis": {"title": "Whole-rock/Primitive mantle", "titleFontSize": 14, "titleFontWeight": "bold", "titleFontStyle": "italic", "titleColor": "#231f20", "titlePadding": 8,
                              "values": [1,2,3,4,5,6,7,8,9,10,20,30,40,50,60,70,80,90,100,200,300,400,500,600,700,800,900,1000],
                              "labelExpr": "datum.value == 1000 ? '10³' : datum.value == 100 ? '10¹' : datum.value == 10 ? '10¹' : datum.value == 1 ? '10⁰' : ''",
                              "tickSize": 6,
                              "encode": {"ticks": {"update": {"x2": {"signal": "(datum.value == 1 || datum.value == 10 || datum.value == 100 || datum.value == 1000) ? -6 : -3"}}}},
                              "labelFontSize": 11, "labelPadding": 1}},
               "detail": {"field": "s"}, "order": {"value": null}}},
            {"data": {"name": "d_s"}, "mark": {"type": "point", "shape": "square", "filled": true, "size": 85, "color": "#5a9a42", "stroke": "#7d8a78", "strokeWidth": 0.8, "opacity": 1},
             "encoding": {
               "x": {"field": "e", "type": "nominal", "scale": {"type": "point", "domain": ["Rb","Ba","Th","Nb","U","La","Ce","Nd","Sr","Sm","Zr","Hf","Eu","Ti","Gd","Dy","Y","Er","Yb","Lu"], "padding": 0}},
               "y": {"field": "v", "type": "quantitative", "scale": {"type": "log", "domain": [1, 1000], "nice": false}}}},
            {"data": {"name": "d_u"}, "mark": {"type": "line", "color": "#ee6a35", "strokeWidth": 1.2},
             "encoding": {
               "x": {"field": "e", "type": "nominal", "scale": {"type": "point", "domain": ["Rb","Ba","Th","Nb","U","La","Ce","Nd","Sr","Sm","Zr","Hf","Eu","Ti","Gd","Dy","Y","Er","Yb","Lu"], "padding": 0}},
               "y": {"field": "v", "type": "quantitative", "scale": {"type": "log", "domain": [1, 1000], "nice": false}},
               "order": {"value": null}}},
            {"data": {"name": "d_u"}, "mark": {"type": "point", "shape": "diamond", "filled": true, "size": 110, "color": "#ee6a35", "stroke": "#5a4a40", "strokeWidth": 0.8, "opacity": 1},
             "encoding": {
               "x": {"field": "e", "type": "nominal", "scale": {"type": "point", "domain": ["Rb","Ba","Th","Nb","U","La","Ce","Nd","Sr","Sm","Zr","Hf","Eu","Ti","Gd","Dy","Y","Er","Yb","Lu"], "padding": 0}},
               "y": {"field": "v", "type": "quantitative", "scale": {"type": "log", "domain": [1, 1000], "nice": false}}}},
            {"data": {"values": [{}]}, "mark": {"type": "point", "shape": "square", "filled": true, "size": 340, "color": "#e4e4e4", "opacity": 1, "xOffset": -14, "yOffset": 16},
             "encoding": {"x": {"datum": "Lu", "type": "nominal", "scale": {"type": "point", "domain": ["Rb","Ba","Th","Nb","U","La","Ce","Nd","Sr","Sm","Zr","Hf","Eu","Ti","Gd","Dy","Y","Er","Yb","Lu"], "padding": 0}},
                          "y": {"datum": 1000, "type": "quantitative", "scale": {"type": "log", "domain": [1, 1000], "nice": false}}}},
            {"data": {"values": [{}]}, "mark": {"type": "text", "text": "d", "fontSize": 18, "align": "center", "baseline": "middle", "dx": -14, "dy": 15, "color": "#231f20"},
             "encoding": {"x": {"datum": "Lu", "type": "nominal", "scale": {"type": "point", "domain": ["Rb","Ba","Th","Nb","U","La","Ce","Nd","Sr","Sm","Zr","Hf","Eu","Ti","Gd","Dy","Y","Er","Yb","Lu"], "padding": 0}},
                          "y": {"datum": 1000, "type": "quantitative", "scale": {"type": "log", "domain": [1, 1000], "nice": false}}}}
          ]
        },
        {
          "spacing": 15,
          "hconcat": [
            {
              "width": 354, "height": 252,
              "layer": [
                {"data": {"name": "e_s"}, "mark": {"type": "line", "color": "#4c9a8a", "strokeWidth": 1},
                 "encoding": {
                   "x": {"field": "e", "type": "nominal", "scale": {"type": "point", "domain": ["Rb","Ba","Th","Nb","U","La","Ce","Nd","Sr","Sm","Zr","Hf","Eu","Ti","Gd","Dy","Y","Er","Yb","Lu"], "padding": 0},
                         "axis": {"title": null, "labelAngle": 0, "tickSize": 5, "labelFontSize": 12.5, "labelPadding": 2,
                                  "encode": {"labels": {"update": {"dy": {"signal": "indexof(['Ba','Nb','La','Nd','Sm','Hf','Ti','Dy','Er','Lu'], datum.value) >= 0 ? 5 : 0"}}}}}},
                   "y": {"field": "v", "type": "quantitative", "scale": {"type": "log", "domain": [1, 1000], "nice": false},
                         "axis": {"title": null,
                                  "values": [1,2,3,4,5,6,7,8,9,10,20,30,40,50,60,70,80,90,100,200,300,400,500,600,700,800,900,1000],
                                  "labelExpr": "datum.value == 1000 ? '10³' : datum.value == 100 ? '10¹' : datum.value == 10 ? '10¹' : datum.value == 1 ? '10⁰' : ''",
                                  "tickSize": 6,
                                  "encode": {"ticks": {"update": {"x2": {"signal": "(datum.value == 1 || datum.value == 10 || datum.value == 100 || datum.value == 1000) ? -6 : -3"}}}},
                                  "labelFontSize": 11, "labelPadding": 1}},
                   "detail": {"field": "s"}, "order": {"value": null}}},
                {"data": {"name": "e_s"}, "mark": {"type": "point", "shape": "square", "filled": true, "size": 85, "color": "#4f9c8d", "stroke": "#3f5f5a", "strokeWidth": 0.8, "opacity": 1},
                 "encoding": {
                   "x": {"field": "e", "type": "nominal", "scale": {"type": "point", "domain": ["Rb","Ba","Th","Nb","U","La","Ce","Nd","Sr","Sm","Zr","Hf","Eu","Ti","Gd","Dy","Y","Er","Yb","Lu"], "padding": 0}},
                   "y": {"field": "v", "type": "quantitative", "scale": {"type": "log", "domain": [1, 1000], "nice": false}}}},
                {"data": {"name": "e_g"}, "mark": {"type": "line", "color": "#e8607e", "strokeWidth": 1.1, "strokeDash": [4, 3]},
                 "encoding": {
                   "x": {"field": "e", "type": "nominal", "scale": {"type": "point", "domain": ["Rb","Ba","Th","Nb","U","La","Ce","Nd","Sr","Sm","Zr","Hf","Eu","Ti","Gd","Dy","Y","Er","Yb","Lu"], "padding": 0}},
                   "y": {"field": "v", "type": "quantitative", "scale": {"type": "log", "domain": [1, 1000], "nice": false}},
                   "order": {"value": null}}},
                {"data": {"name": "e_m"}, "mark": {"type": "line", "color": "#f0a830", "strokeWidth": 1.2},
                 "encoding": {
                   "x": {"field": "e", "type": "nominal", "scale": {"type": "point", "domain": ["Rb","Ba","Th","Nb","U","La","Ce","Nd","Sr","Sm","Zr","Hf","Eu","Ti","Gd","Dy","Y","Er","Yb","Lu"], "padding": 0}},
                   "y": {"field": "v", "type": "quantitative", "scale": {"type": "log", "domain": [1, 1000], "nice": false}},
                   "order": {"value": null}}},
                {"data": {"name": "e_m"}, "mark": {"type": "point", "shape": "diamond", "filled": true, "size": 110, "color": "#f0aa32", "stroke": "#5a4a30", "strokeWidth": 0.8, "opacity": 1},
                 "encoding": {
                   "x": {"field": "e", "type": "nominal", "scale": {"type": "point", "domain": ["Rb","Ba","Th","Nb","U","La","Ce","Nd","Sr","Sm","Zr","Hf","Eu","Ti","Gd","Dy","Y","Er","Yb","Lu"], "padding": 0}},
                   "y": {"field": "v", "type": "quantitative", "scale": {"type": "log", "domain": [1, 1000], "nice": false}}}},
                {"data": {"values": [{}]}, "mark": {"type": "text", "text": "GLOSS", "fontSize": 15, "align": "center", "baseline": "middle", "dx": -2, "color": "#e8607e"},
                 "encoding": {"x": {"datum": "Hf", "type": "nominal", "scale": {"type": "point", "domain": ["Rb","Ba","Th","Nb","U","La","Ce","Nd","Sr","Sm","Zr","Hf","Eu","Ti","Gd","Dy","Y","Er","Yb","Lu"], "padding": 0}},
                              "y": {"datum": 3.16, "type": "quantitative", "scale": {"type": "log", "domain": [1, 1000], "nice": false}}}},
                {"data": {"values": [{}]}, "mark": {"type": "rule", "color": "#e8607e", "strokeWidth": 0.7, "xOffset": -17, "x2Offset": -2},
                 "encoding": {"x": {"datum": "Ti", "type": "nominal", "scale": {"type": "point", "domain": ["Rb","Ba","Th","Nb","U","La","Ce","Nd","Sr","Sm","Zr","Hf","Eu","Ti","Gd","Dy","Y","Er","Yb","Lu"], "padding": 0}},
                              "x2": {"datum": "Ti"},
                              "y": {"datum": 3.6, "type": "quantitative", "scale": {"type": "log", "domain": [1, 1000], "nice": false}},
                              "y2": {"datum": 4.73}}},
                {"data": {"values": [{}]}, "mark": {"type": "point", "shape": "square", "filled": true, "size": 340, "color": "#e4e4e4", "opacity": 1, "xOffset": -14.5, "yOffset": 16},
                 "encoding": {"x": {"datum": "Lu", "type": "nominal", "scale": {"type": "point", "domain": ["Rb","Ba","Th","Nb","U","La","Ce","Nd","Sr","Sm","Zr","Hf","Eu","Ti","Gd","Dy","Y","Er","Yb","Lu"], "padding": 0}},
                              "y": {"datum": 1000, "type": "quantitative", "scale": {"type": "log", "domain": [1, 1000], "nice": false}}}},
                {"data": {"values": [{}]}, "mark": {"type": "text", "text": "e", "fontSize": 18, "align": "center", "baseline": "middle", "dx": -14.5, "dy": 15, "color": "#231f20"},
                 "encoding": {"x": {"datum": "Lu", "type": "nominal", "scale": {"type": "point", "domain": ["Rb","Ba","Th","Nb","U","La","Ce","Nd","Sr","Sm","Zr","Hf","Eu","Ti","Gd","Dy","Y","Er","Yb","Lu"], "padding": 0}},
                              "y": {"datum": 1000, "type": "quantitative", "scale": {"type": "log", "domain": [1, 1000], "nice": false}}}}
              ]
            },
            {
              "width": 354, "height": 252,
              "layer": [
                {"data": {"name": "f_band"}, "mark": {"type": "area", "color": "#c6e5f6", "opacity": 1},
                 "encoding": {
                   "x": {"field": "e", "type": "nominal", "scale": {"type": "point", "domain": ["Rb","Ba","Th","Nb","U","La","Ce","Nd","Sr","Sm","Zr","Hf","Eu","Ti","Gd","Dy","Y","Er","Yb","Lu"], "padding": 0},
                         "axis": {"title": null, "labelAngle": 0, "tickSize": 5, "labelFontSize": 12.5, "labelPadding": 2,
                                  "encode": {"labels": {"update": {"dy": {"signal": "indexof(['Ba','Nb','La','Nd','Sm','Hf','Ti','Dy','Er','Lu'], datum.value) >= 0 ? 5 : 0"}}}}}},
                   "y": {"field": "hi", "type": "quantitative", "scale": {"type": "log", "domain": [1, 1000], "nice": false},
                         "axis": {"title": null,
                                  "values": [1,2,3,4,5,6,7,8,9,10,20,30,40,50,60,70,80,90,100,200,300,400,500,600,700,800,900,1000],
                                  "labelExpr": "datum.value == 1000 ? '10³' : datum.value == 100 ? '10¹' : datum.value == 10 ? '10¹' : datum.value == 1 ? '10⁰' : ''",
                                  "tickSize": 6,
                                  "encode": {"ticks": {"update": {"x2": {"signal": "(datum.value == 1 || datum.value == 10 || datum.value == 100 || datum.value == 1000) ? -6 : -3"}}}},
                                  "labelFontSize": 11, "labelPadding": 1}},
                   "y2": {"field": "lo"},
                   "order": {"value": null}}},
                {"data": {"name": "f_s"}, "mark": {"type": "line", "color": "#a8262c", "strokeWidth": 1.2},
                 "encoding": {
                   "x": {"field": "e", "type": "nominal", "scale": {"type": "point", "domain": ["Rb","Ba","Th","Nb","U","La","Ce","Nd","Sr","Sm","Zr","Hf","Eu","Ti","Gd","Dy","Y","Er","Yb","Lu"], "padding": 0}},
                   "y": {"field": "v", "type": "quantitative", "scale": {"type": "log", "domain": [1, 1000], "nice": false}},
                   "detail": {"field": "s"}, "order": {"value": null}}},
                {"data": {"name": "f_s"}, "mark": {"type": "point", "shape": "square", "filled": true, "size": 110, "color": "#a8262c", "stroke": "#e8b4b4", "strokeWidth": 0.8, "opacity": 1},
                 "encoding": {
                   "x": {"field": "e", "type": "nominal", "scale": {"type": "point", "domain": ["Rb","Ba","Th","Nb","U","La","Ce","Nd","Sr","Sm","Zr","Hf","Eu","Ti","Gd","Dy","Y","Er","Yb","Lu"], "padding": 0}},
                   "y": {"field": "v", "type": "quantitative", "scale": {"type": "log", "domain": [1, 1000], "nice": false}}}},
                {"data": {"values": [{}]}, "mark": {"type": "text", "text": "Coronel João Sá", "fontSize": 15, "align": "left", "baseline": "middle", "dx": 0, "color": "#2a7bc0"},
                 "encoding": {"x": {"datum": "Sr", "type": "nominal", "scale": {"type": "point", "domain": ["Rb","Ba","Th","Nb","U","La","Ce","Nd","Sr","Sm","Zr","Hf","Eu","Ti","Gd","Dy","Y","Er","Yb","Lu"], "padding": 0}},
                              "y": {"datum": 105.6, "type": "quantitative", "scale": {"type": "log", "domain": [1, 1000], "nice": false}}}},
                {"data": {"values": [{}]}, "mark": {"type": "text", "text": "granodiorites and tonalites", "fontSize": 15, "align": "left", "baseline": "middle", "dx": 0, "color": "#2a7bc0"},
                 "encoding": {"x": {"datum": "Sr", "type": "nominal", "scale": {"type": "point", "domain": ["Rb","Ba","Th","Nb","U","La","Ce","Nd","Sr","Sm","Zr","Hf","Eu","Ti","Gd","Dy","Y","Er","Yb","Lu"], "padding": 0}},
                              "y": {"datum": 66.3, "type": "quantitative", "scale": {"type": "log", "domain": [1, 1000], "nice": false}}}},
                {"data": {"values": [{}]}, "mark": {"type": "rule", "color": "#2a7bc0", "strokeWidth": 0.7, "xOffset": -19.7, "x2Offset": -3},
                 "encoding": {"x": {"datum": "Sr", "type": "nominal", "scale": {"type": "point", "domain": ["Rb","Ba","Th","Nb","U","La","Ce","Nd","Sr","Sm","Zr","Hf","Eu","Ti","Gd","Dy","Y","Er","Yb","Lu"], "padding": 0}},
                              "x2": {"datum": "Sr"},
                              "y": {"datum": 48.6, "type": "quantitative", "scale": {"type": "log", "domain": [1, 1000], "nice": false}},
                              "y2": {"datum": 58.3}}},
                {"data": {"values": [{}]}, "mark": {"type": "point", "shape": "square", "filled": true, "size": 340, "color": "#e4e4e4", "opacity": 1, "xOffset": -14.3, "yOffset": 16},
                 "encoding": {"x": {"datum": "Lu", "type": "nominal", "scale": {"type": "point", "domain": ["Rb","Ba","Th","Nb","U","La","Ce","Nd","Sr","Sm","Zr","Hf","Eu","Ti","Gd","Dy","Y","Er","Yb","Lu"], "padding": 0}},
                              "y": {"datum": 1000, "type": "quantitative", "scale": {"type": "log", "domain": [1, 1000], "nice": false}}}},
                {"data": {"values": [{}]}, "mark": {"type": "text", "text": "f", "fontSize": 18, "align": "center", "baseline": "middle", "dx": -14.3, "dy": 15, "color": "#231f20"},
                 "encoding": {"x": {"datum": "Lu", "type": "nominal", "scale": {"type": "point", "domain": ["Rb","Ba","Th","Nb","U","La","Ce","Nd","Sr","Sm","Zr","Hf","Eu","Ti","Gd","Dy","Y","Er","Yb","Lu"], "padding": 0}},
                              "y": {"datum": 1000, "type": "quantitative", "scale": {"type": "log", "domain": [1, 1000], "nice": false}}}}
              ]
            }
          ]
        }
      ]
    }
  ]
}
